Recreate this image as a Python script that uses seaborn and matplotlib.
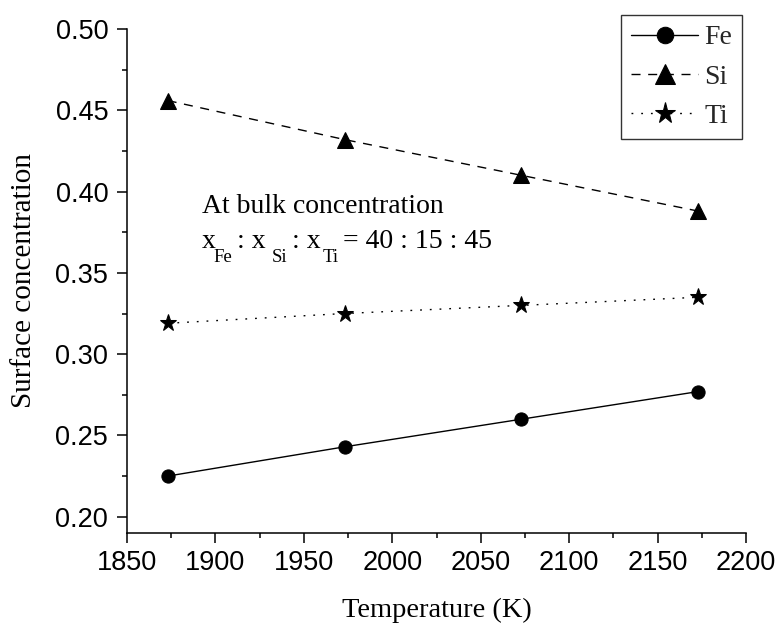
import matplotlib
matplotlib.use("Agg")
import matplotlib.pyplot as plt
import seaborn as sns
import pandas as pd
from matplotlib.ticker import MultipleLocator, FormatStrFormatter

temperature = [1873, 1973, 2073, 2173]
fe = [0.225, 0.243, 0.260, 0.277]
si = [0.456, 0.432, 0.410, 0.388]
ti = [0.319, 0.325, 0.330, 0.335]
series_names = ["Fe", "Si", "Ti"]

sns.set_theme(style="ticks")
plt.rcParams["font.family"] = ["Liberation Serif", "DejaVu Serif"]

fig = plt.figure(figsize=(7.79, 6.24), dpi=100)
L, R, T, B = 127, 746, 29, 533
ax = fig.add_axes([L/779, 1 - B/624, (R-L)/779, (B-T)/624])

df = pd.DataFrame({"T": temperature, "Fe": fe, "Si": si, "Ti": ti})
styles = {
    "Fe": dict(marker="o", markersize=9.5, linestyle="-"),
    "Si": dict(marker="^", markersize=11.5, linestyle=(0, (6.5, 5.5))),
    "Ti": dict(marker="*", markersize=12.5, linestyle=(0, (1.3, 5.7))),
}
for name in series_names:
    sns.lineplot(data=df, x="T", y=name, ax=ax, color="black", linewidth=1.0,
                 markeredgecolor="black", markerfacecolor="black", label=name,
                 **styles[name])

ax.set_xlim(1850, 2200)
ax.set_ylim(0.19, 0.50)
ax.xaxis.set_major_locator(MultipleLocator(50))
ax.xaxis.set_minor_locator(MultipleLocator(25))
ax.yaxis.set_major_locator(MultipleLocator(0.05))
ax.yaxis.set_minor_locator(MultipleLocator(0.025))
ax.yaxis.set_major_formatter(FormatStrFormatter("%.2f"))

for s in ["top", "right"]:
    ax.spines[s].set_visible(False)
for s in ["left", "bottom"]:
    ax.spines[s].set_linewidth(1.1)
    ax.spines[s].set_color("black")

ax.tick_params(which="major", direction="out", length=7, width=1.1, colors="black",
               labelsize=19.5)
ax.tick_params(axis="y", which="major", pad=6.5)
ax.tick_params(axis="x", which="major", pad=5)
ax.tick_params(which="minor", direction="out", length=3.6, width=1.1, colors="black")
for lab in ax.get_xticklabels() + ax.get_yticklabels():
    lab.set_fontfamily("Liberation Sans")


def fx(px):
    return (px - L) / (R - L)


def fy(py):
    return (B - py) / (B - T)


ax.set_xlabel("Temperature (K)", fontsize=20.5, color="black", va="baseline")
ax.xaxis.set_label_coords(0.5, fy(617))
ax.set_ylabel("Surface concentration", fontsize=21, labelpad=13, color="black")

ax.text(fx(202), fy(213), "At bulk concentration", transform=ax.transAxes,
        fontsize=20, ha="left", va="baseline", color="black")

base_main = fy(248)
base_sub = fy(262)
pieces = [
    ("x", 202, base_main, 20),
    ("Fe", 213, base_sub, 13.5),
    (": x", 237, base_main, 20),
    ("Si", 272, base_sub, 13.5),
    (": x", 292, base_main, 20),
    ("Ti", 323, base_sub, 13.5),
    ("= 40 : 15 : 45", 343, base_main, 20),
]
for txt, px, yb, fs in pieces:
    ax.text(fx(px), yb, txt, transform=ax.transAxes, fontsize=fs,
            ha="left", va="baseline", color="black")

leg = ax.legend(loc="upper right", bbox_to_anchor=(fx(742), fy(15)), borderaxespad=0,
                fontsize=20, frameon=True, fancybox=False, handlelength=2.4,
                handletextpad=0.22, labelspacing=0.5, borderpad=0.36,
                markerscale=1.25)
leg.get_frame().set_edgecolor("black")
leg.get_frame().set_linewidth(1.0)

fig.savefig("out.png", dpi=100)
